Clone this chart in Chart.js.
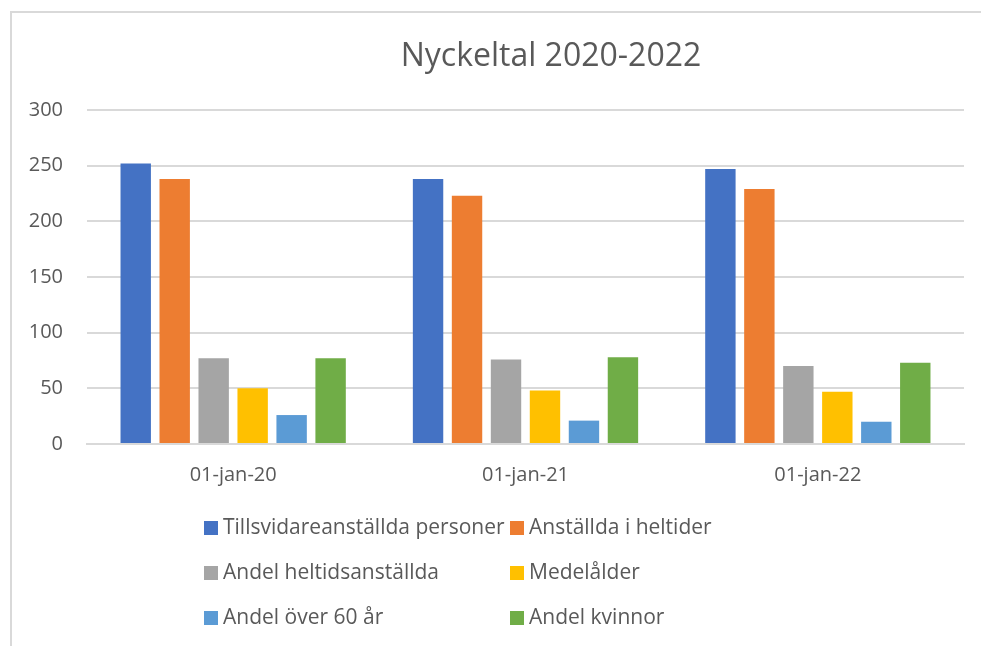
<!DOCTYPE html>
<html>
<head>
<meta charset="utf-8">
<script src="https://cdn.jsdelivr.net/npm/chart.js@4"></script>
<style>
  html, body { margin: 0; padding: 0; background: #fff; overflow: hidden; }
  #wrap { position: absolute; left: 0; top: 0; width: 981px; height: 646px; overflow: hidden; }
  #frame { position: absolute; left: 10px; top: 11px; width: 1200px; height: 800px; border-left: 2px solid #d9d9d9; border-top: 2px solid #d9d9d9; }
  canvas { position: absolute; left: 0; top: 0; }
</style>
</head>
<body>
<div id="wrap">
  <div id="frame"></div>
  <canvas id="chart" width="981" height="646"></canvas>
</div>
<script>
const titleText = 'Nyckeltal 2020-2022';
const categories = ['01-jan-20', '01-jan-21', '01-jan-22'];
const seriesNames = [
  'Tillsvidareanställda personer',
  'Anställda i heltider',
  'Andel heltidsanställda',
  'Medelålder',
  'Andel över 60 år',
  'Andel kvinnor'
];
const tillsvidare = [252, 238, 247];
const heltider = [238, 223, 229];
const andelHeltid = [77, 76, 70];
const medelalder = [50, 48, 47];
const over60 = [26, 21, 20];
const kvinnor = [77, 78, 73];
const colors = ['#4472C4', '#ED7D31', '#A5A5A5', '#FFC000', '#5B9BD5', '#70AD47'];

const seriesValues = [tillsvidare, heltider, andelHeltid, medelalder, over60, kvinnor];
const textColor = '#595959';
const font = '"Open Sans", sans-serif';

// title + 2-column legend like the Excel original
const excelDecor = {
  id: 'excelDecor',
  afterDraw(chart) {
    const ctx = chart.ctx;
    ctx.save();
    ctx.fillStyle = textColor;
    ctx.font = '32px ' + font;
    ctx.textAlign = 'center';
    ctx.textBaseline = 'middle';
    ctx.fillText(titleText, 551, 57);

    const colX = [204, 510];
    const rowY = [528, 573, 618];
    ctx.font = '21px ' + font;
    ctx.textAlign = 'left';
    chart.data.datasets.forEach((ds, i) => {
      const x = colX[i % 2];
      const y = rowY[Math.floor(i / 2)];
      ctx.fillStyle = ds.backgroundColor;
      ctx.fillRect(x, y - 7, 14, 14);
      ctx.fillStyle = textColor;
      ctx.fillText(ds.label, x + 19, y);
    });
    ctx.restore();
  }
};

new Chart(document.getElementById('chart'), {
  type: 'bar',
  data: {
    labels: categories,
    datasets: seriesNames.map((name, i) => ({
      label: name,
      data: seriesValues[i],
      backgroundColor: colors[i],
      categoryPercentage: 0.8,
      barPercentage: 0.78
    }))
  },
  options: {
    responsive: false,
    animation: false,
    layout: { padding: { left: 0, right: 17, top: 110, bottom: 152 } },
    plugins: {
      legend: { display: false },
      title: { display: false },
      tooltip: { enabled: false }
    },
    scales: {
      x: {
        grid: { display: false, drawTicks: false },
        border: { color: '#d9d9d9', width: 2 },
        ticks: { color: textColor, font: { family: font, size: 20 }, padding: 19 },
        afterFit(scale) { scale.height = 50; }
      },
      y: {
        min: 0,
        max: 300,
        ticks: { stepSize: 50, color: textColor, font: { family: font, size: 20 }, padding: 24 },
        grid: { color: '#d9d9d9', lineWidth: 2, drawTicks: false },
        border: { display: false },
        afterFit(scale) { scale.width = 87; }
      }
    }
  },
  plugins: [excelDecor]
});
</script>
</body>
</html>
